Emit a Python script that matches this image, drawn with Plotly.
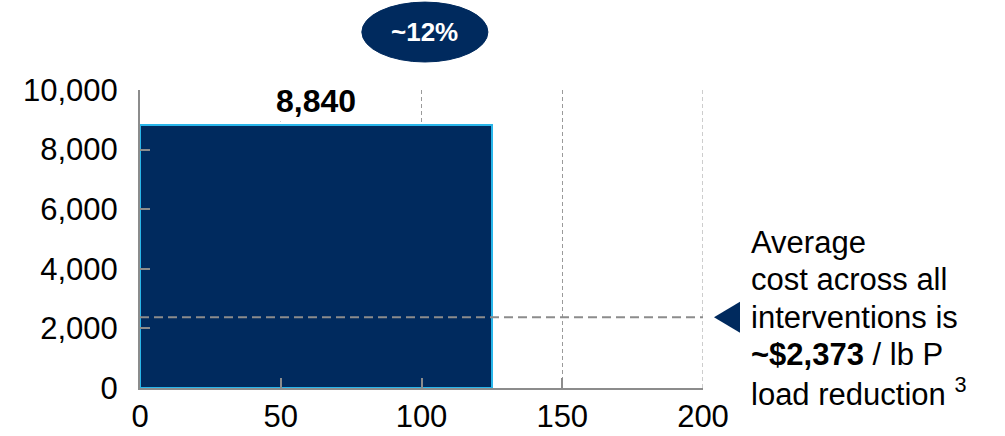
import numpy as np
import plotly.graph_objects as go

# Data
bar_widths = [125]          # lb P load reduction (x extent)
bar_values = [8840]         # cost per lb P
avg_cost = 2373
share_label = "~12%"
x_ticks = [0, 50, 100, 150, 200]
y_ticks = [0, 2000, 4000, 6000, 8000, 10000]
note_lines = ["Average", "cost across all", "interventions is",
              f"<b>~${avg_cost:,}</b> / lb P", "load reduction <sup>3</sup>"]

FONT = "Liberation Sans, Arial, sans-serif"
NAVY = "#002A5E"
OUTLINE = "#29B6EA"
GRAY = "#8C8C8C"
Y_MAX = 10000
X_MAX = 200

w = np.array(bar_widths, dtype=float)
x_mid = np.cumsum(w) - w / 2

fig = go.Figure()
fig.add_trace(go.Bar(
    x=x_mid, y=bar_values, width=w,
    marker=dict(color=NAVY, line=dict(color=OUTLINE, width=2)),
    showlegend=False, hoverinfo="skip",
))

# Value labels (white box hides gridline behind)
for xm, v in zip(x_mid, bar_values):
    fig.add_annotation(x=xm, y=v, xref="x", yref="y", text=f"<b>{v:,}</b>",
                       showarrow=False, yanchor="bottom", yshift=3, bgcolor="white",
                       borderpad=2, font=dict(family=FONT, size=32, color="black"))

# Gridline at the right edge of the range
fig.add_shape(type="line", xref="x", yref="paper", x0=X_MAX, x1=X_MAX, y0=0, y1=1,
              line=dict(color="#9A9A9A", width=1, dash="4px,3px"), layer="below")

fig.add_shape(type="line", xref="x", yref="y", x0=0, x1=X_MAX, y0=avg_cost, y1=avg_cost,
              line=dict(color=GRAY, width=2, dash="9px,5px"), layer="above")

# Triangle pointer at the average line (paper coords)
yc = avg_cost / Y_MAX
fig.add_shape(type="path", xref="paper", yref="paper",
              path=f"M 1.0195 {yc} L 1.0657 {yc + 0.052} L 1.0657 {yc - 0.052} Z",
              fillcolor=NAVY, line=dict(width=0), layer="above")

# Oval badge
fig.add_shape(type="circle", xref="paper", yref="paper",
              x0=0.394, x1=0.618, y0=1.094, y1=1.295,
              fillcolor=NAVY, line=dict(color=NAVY, width=1), layer="above")
fig.add_annotation(xref="paper", yref="paper", x=0.506, y=1.195, text=f"<b>{share_label}</b>",
                   showarrow=False, font=dict(family=FONT, size=26, color="white"),
                   xanchor="center", yanchor="middle")

for i, line in enumerate(note_lines):
    fig.add_annotation(xref="paper", yref="y", x=1.082, y=avg_cost, xanchor="left", yanchor="middle",
                       align="left", showarrow=False, yshift=(2 - i) * 37.5,
                       text=line, font=dict(family=FONT, size=31, color="black"))

fig.update_layout(
    width=1005, height=436,
    margin=dict(l=140, r=302, t=90, b=48, autoexpand=False),
    paper_bgcolor="white", plot_bgcolor="white",
    font=dict(family=FONT, size=31, color="black"),
    bargap=0,
    xaxis=dict(range=[0, X_MAX], tickvals=x_ticks, showgrid=True, gridcolor="#9A9A9A",
               gridwidth=1, griddash="4px,3px", zeroline=False, automargin=False,
               showline=True, linecolor=GRAY, linewidth=2,
               ticks="inside", ticklen=10, tickcolor=GRAY, tickwidth=2,
               tickfont=dict(family=FONT, size=31, color="black")),
    yaxis=dict(range=[0, Y_MAX], tickvals=y_ticks, tickformat=",", showgrid=False,
               zeroline=False, showline=True, linecolor=GRAY, linewidth=2, automargin=False,
               ticks="inside", ticklen=10, tickcolor=GRAY, tickwidth=2,
               ticklabelstandoff=14,
               tickfont=dict(family=FONT, size=31, color="black")),
)

fig.write_html("out.html")
